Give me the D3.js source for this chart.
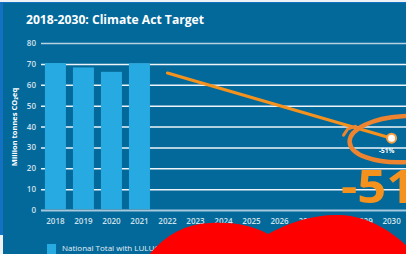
<!DOCTYPE html>
<html><head><meta charset="utf-8">
<script src="https://cdn.jsdelivr.net/npm/d3@7"></script>
<style>html,body{margin:0;padding:0;background:#eef2f4;overflow:hidden}</style>
</head><body>
<script>
const years = ["2018","2019","2020","2021","2022","2023","2024","2025","2026","2027","2028","2029","2030"];
const barYears = ["2018","2019","2020","2021"];
const barValues = [70.4, 68.3, 66.2, 70.3];
const targetYears = ["2022","2030"];
const targetValues = [65.6, 34.4];
const yTicks = [0,10,20,30,40,50,60,70,80];
const title = "2018-2030: Climate Act Target";
const yTitle = "Million tonnes CO₂eq";
const legendLabel = "National Total with LULUCF";
const targetLabel = "-51%";
const bigLabel = "-51";

const W = 406, H = 254;
const svg = d3.select("body").append("svg").attr("width", W).attr("height", H);

// backgrounds
svg.append("rect").attr("x",0).attr("y",0).attr("width",W).attr("height",H).attr("fill","#eef2f4");
svg.append("rect").attr("x",0).attr("y",2).attr("width",W).attr("height",233).attr("fill","#1470c0");
svg.append("rect").attr("x",3).attr("y",3).attr("width",W-3).attr("height",H-3).attr("fill","#03699a");

const x = d3.scaleBand().domain(years).range([41, 406]).paddingInner(0.25).paddingOuter(0.14);
const y = d3.scaleLinear().domain([0, 80]).range([210, 43]);

// title
svg.append("text").attr("x",26).attr("y",24).text(title)
  .attr("fill","#ffffff").attr("font-family","Open Sans").attr("font-weight","bold")
  .attr("font-size",12).attr("textLength",178).attr("lengthAdjust","spacingAndGlyphs");

// gridlines
const yAxis = d3.axisLeft(y).tickValues(yTicks).tickSize(-(W-41)).tickPadding(5);
const gy = svg.append("g").attr("transform","translate(41,0)").call(yAxis);
gy.select(".domain").remove();
gy.selectAll(".tick line").attr("stroke", d => d===80 ? "#b8d2e2" : (d===0 ? "#a5c8dc" : "#eef4f8"))
  .attr("stroke-width", d => d===0 ? 2 : 1.5);
gy.selectAll(".tick text").attr("fill","#d2e2ec").attr("font-family","Open Sans")
  .attr("font-weight","600").attr("font-size",8).attr("x",-5);

// y title
svg.append("text").attr("transform","translate(17,127) rotate(-90)").attr("text-anchor","middle")
  .text(yTitle).attr("fill","#ffffff").attr("font-family","Open Sans").attr("font-weight","bold").attr("font-size",7.5);

// bars
svg.append("g").selectAll("rect").data(barYears.map((yr,i)=>({yr, v:barValues[i]}))).join("rect")
  .attr("x", d=>x(d.yr)).attr("width", x.bandwidth())
  .attr("y", d=>y(d.v)).attr("height", d=>y(0)-y(d.v)-1)
  .attr("fill","#27a9e1");

// x axis labels
const xAxis = d3.axisBottom(x).tickSize(0).tickPadding(6);
const gx = svg.append("g").attr("transform","translate(0,212)").call(xAxis);
gx.select(".domain").remove();
gx.selectAll(".tick text").attr("fill","#d2e2ec").attr("font-family","Open Sans")
  .attr("font-weight","600").attr("font-size",8);

// target line
const pts = targetYears.map((yr,i)=>[x(yr)+x.bandwidth()/2, y(targetValues[i])]);
svg.append("path").attr("d", d3.line()(pts)).attr("stroke","#f5921e").attr("stroke-width",3.2)
  .attr("fill","none").attr("stroke-linecap","round");
const end = pts[pts.length-1];
svg.append("circle").attr("cx",end[0]).attr("cy",end[1]).attr("r",4.5).attr("fill","#fff")
  .attr("stroke","#f5a040").attr("stroke-width",2);
svg.append("text").attr("x",end[0]-5).attr("y",end[1]+15).attr("text-anchor","middle").text(targetLabel)
  .attr("fill","#ffffff").attr("font-family","Open Sans").attr("font-weight","bold").attr("font-size",6.5);

// hand-drawn ellipse annotation
svg.append("ellipse").attr("cx",end[0]+12).attr("cy",end[1]+1).attr("rx",54).attr("ry",23)
  .attr("transform",`rotate(-3 ${end[0]+12} ${end[1]+1})`)
  .attr("fill","none").attr("stroke","#ee8430").attr("stroke-width",4.5);
svg.append("path").attr("d",`M${end[0]-48},${end[1]-3} l4,-6 l8,-3`).attr("fill","none")
  .attr("stroke","#ee8430").attr("stroke-width",3).attr("stroke-linecap","round");

// big -51 label
svg.append("text").attr("transform","translate(341,203) scale(1.1,1)").text(bigLabel)
  .attr("fill","#f5921e").attr("font-family","Open Sans").attr("font-weight","bold").attr("font-size",46);

// legend
svg.append("rect").attr("x",47).attr("y",244).attr("width",9).attr("height",10).attr("fill","#27a9e1");
svg.append("text").attr("x",62).attr("y",251).text(legendLabel).attr("fill","#e6eef3")
  .attr("font-family","Open Sans").attr("font-size",8);

// red heart annotation
svg.append("path").attr("d","M268,234 C250,224 230,222 210,223 C185,224 165,235 148,256 L148,262 L420,262 L420,260 C400,236 372,216 340,215 C315,214 290,222 268,234 Z")
  .attr("fill","#ff0000");
</script>
</body></html>
